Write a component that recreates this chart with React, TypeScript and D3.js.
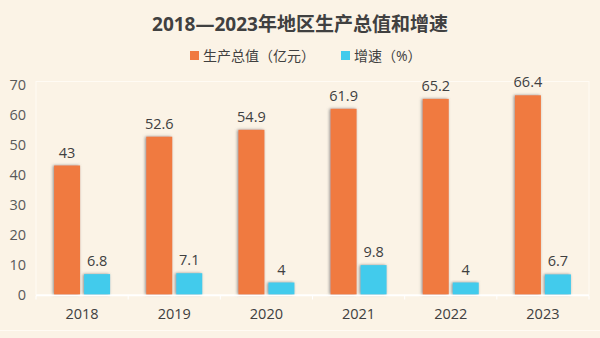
import React from "react";
import * as d3 from "d3";

const years = ["2018", "2019", "2020", "2021", "2022", "2023"];
const gdp = [43, 52.6, 54.9, 61.9, 65.2, 66.4];
const growth = [6.8, 7.1, 4, 9.8, 4, 6.7];
const yTicks = [0, 10, 20, 30, 40, 50, 60, 70];
const seriesNames = ["生产总值（亿元）", "增速（%）"];
const colors = ["#F07A41", "#42CBEC"];

const W = 600, H = 338;
const left = 36, right = 589, top = 84.5, bottom = 294.5;
const font = "'Open Sans', 'Noto Sans CJK SC', sans-serif";

export default function App() {
  const x = d3.scaleBand<string>().domain(years).range([left, right]).padding(0);
  const y = d3.scaleLinear().domain([0, 70]).range([bottom, top]);
  const bw = 26, gap = 4;
  const series = [gdp, growth];
  return (
    <svg width={W} height={H} style={{ position: "absolute", left: 0, top: 0 }}>
      <defs>
        <filter id="sh" x="-50%" y="-20%" width="200%" height="140%">
          <feGaussianBlur in="SourceAlpha" stdDeviation="1.6" result="blur" />
          <feOffset in="blur" dx="-1.5" dy="0" result="off" />
          <feFlood floodColor="#7a7a7a" floodOpacity="0.85" />
          <feComposite in2="off" operator="in" result="shadow" />
          <feMerge><feMergeNode in="shadow" /><feMergeNode in="SourceGraphic" /></feMerge>
        </filter>
      </defs>
      <rect width={W} height={H} fill="#FBF3E6" />
      <rect x={left} y={top - 3} width={right - left} height={bottom - top + 3} fill="none" stroke="#FFFBF4" strokeWidth={1} />
      <line x1={0} x2={W} y1={330.5} y2={330.5} stroke="#FFFBF4" strokeWidth={1} />
      <text x={300} y={31} textAnchor="middle" fontFamily={font} fontSize={19} fontWeight="bold" fill="#404040">2018—2023年地区生产总值和增速</text>
      {seriesNames.map((n, i) => {
        const lx = i === 0 ? 190 : 341;
        return (
          <g key={n}>
            <rect x={lx} y={51} width={9} height={9} fill={colors[i]} />
            <text x={lx + 13} y={60.5} fontFamily={font} fontSize={14} fill="#404040">{n}</text>
          </g>
        );
      })}
      {yTicks.map(t => (
        <text key={t} x={26} y={y(t) + 5} textAnchor="end" fontFamily={font} fontSize={14.5} fill="#595959">{t}</text>
      ))}
      {years.map((yr, i) => {
        const cx = (x(yr) as number) + x.bandwidth() / 2;
        return (
          <g key={yr}>
            {series.map((s, k) => {
              const bx = k === 0 ? cx - gap / 2 - bw : cx + gap / 2;
              return (
                <g key={k}>
                  <rect x={bx} y={y(s[i])} width={bw} height={bottom - y(s[i])} fill={colors[k]} filter="url(#sh)" />
                  <text x={bx + bw / 2} y={y(s[i]) - 8} textAnchor="middle" fontFamily={font} fontSize={14.5} fill="#404040">{s[i]}</text>
                </g>
              );
            })}
            <text x={cx} y={319} textAnchor="middle" fontFamily={font} fontSize={14.5} fill="#404040">{yr}</text>
          </g>
        );
      })}
      <line x1={left} x2={right} y1={bottom + 1} y2={bottom + 1} stroke="#FFFFFF" strokeWidth={1.5} />
      {years.concat([""]).map((_, i) => {
        const tx = left + i * x.bandwidth();
        return <line key={i} x1={tx} x2={tx} y1={bottom + 1} y2={bottom + 5} stroke="#FFFFFF" strokeWidth={1} />;
      })}
    </svg>
  );
}
